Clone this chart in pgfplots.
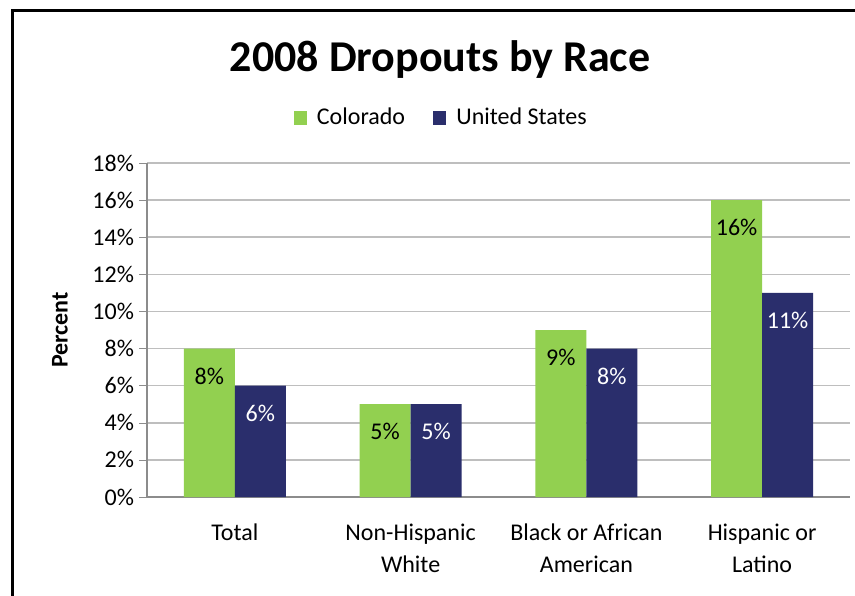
\documentclass[border=0pt]{standalone}
\usepackage{pgfplots}
\pgfplotsset{compat=1.18}
\usepackage{fontspec}
\setmainfont{Carlito}
\definecolor{cogreen}{HTML}{92D050}
\definecolor{usnavy}{HTML}{2A2E6C}
\definecolor{gridgray}{HTML}{BEBEBE}
\definecolor{axgray}{HTML}{8C8C8C}

\begin{document}
\begin{tikzpicture}
\useasboundingbox (0,0) rectangle (427.5pt,297.5pt);
\clip (0,0) rectangle (427.5pt,297.5pt);
\fill[white] (0,0) rectangle (427.5pt,297.5pt);
\draw[line width=1.5pt] (6.25pt,-5pt) -- (6.25pt,292.25pt) -- (435pt,292.25pt);
\begin{axis}[
  at={(73.5pt,49pt)}, anchor=south west,
  scale only axis, width=351.5pt, height=167pt,
  ymin=0, ymax=18, xmin=-0.5, xmax=3.5,
  ytick={0,2,...,18},
  yticklabel={\pgfmathprintnumber{\tick}\%},
  /pgf/number format/assume math mode=true,
  xtick={0,1,2,3},
  xticklabels={Total,Non-Hispanic\\White,Black or African\\American,Hispanic or\\Latino},
  x tick label style={align=center, font=\fontsize{12}{16}\selectfont, yshift=-6pt},
  y tick label style={font=\fontsize{12}{14}\selectfont, xshift=1pt},
  major x tick style={draw=none},
  extra x ticks={-0.5,0.5,1.5,2.5,3.5},
  extra x tick labels={},
  extra x tick style={major tick length=8pt, tick align=outside, tick style={draw=axgray}},
  ymajorgrids, grid style={gridgray, line width=0.8pt},
  major y tick style={draw=axgray},
  tick align=outside, major tick length=4pt,
  axis lines*=left, axis line style={axgray, line width=0.8pt},
  ybar=0pt, bar width=25.5pt,
  ylabel={\textbf{Percent}},
  every axis y label/.style={at={(axis description cs:-0.124,0.5)}, rotate=90, anchor=center, font=\fontsize{12}{14}\selectfont},
  title={\textbf{2008 Dropouts by Race}},
  title style={at={(axis description cs:0.417,1.275)}, anchor=center, font=\fontsize{22}{26}\selectfont},
  legend style={at={(axis description cs:0.42,1.135)}, anchor=center, draw=none, legend columns=-1, font=\fontsize{12}{14}\selectfont, /tikz/every even column/.append style={column sep=12pt}},
  legend image code/.code={\fill[#1] (0pt,-3.3pt) rectangle (6.6pt,3.3pt); \path (9.6pt,0pt);},
  nodes near coords={\pgfmathprintnumber{\pgfplotspointmeta}\%},
  every node near coord/.append style={anchor=north, yshift=-6pt, font=\fontsize{12}{14}\selectfont},
]
\addplot[fill=cogreen, draw=none, nodes near coords style={text=black}] coordinates {(0,8) (1,5) (2,9) (3,16)};
\addplot[fill=usnavy, draw=none, nodes near coords style={text=white}] coordinates {(0,6) (1,5) (2,8) (3,11)};
\legend{Colorado, United States}
\end{axis}
\end{tikzpicture}
\end{document}
